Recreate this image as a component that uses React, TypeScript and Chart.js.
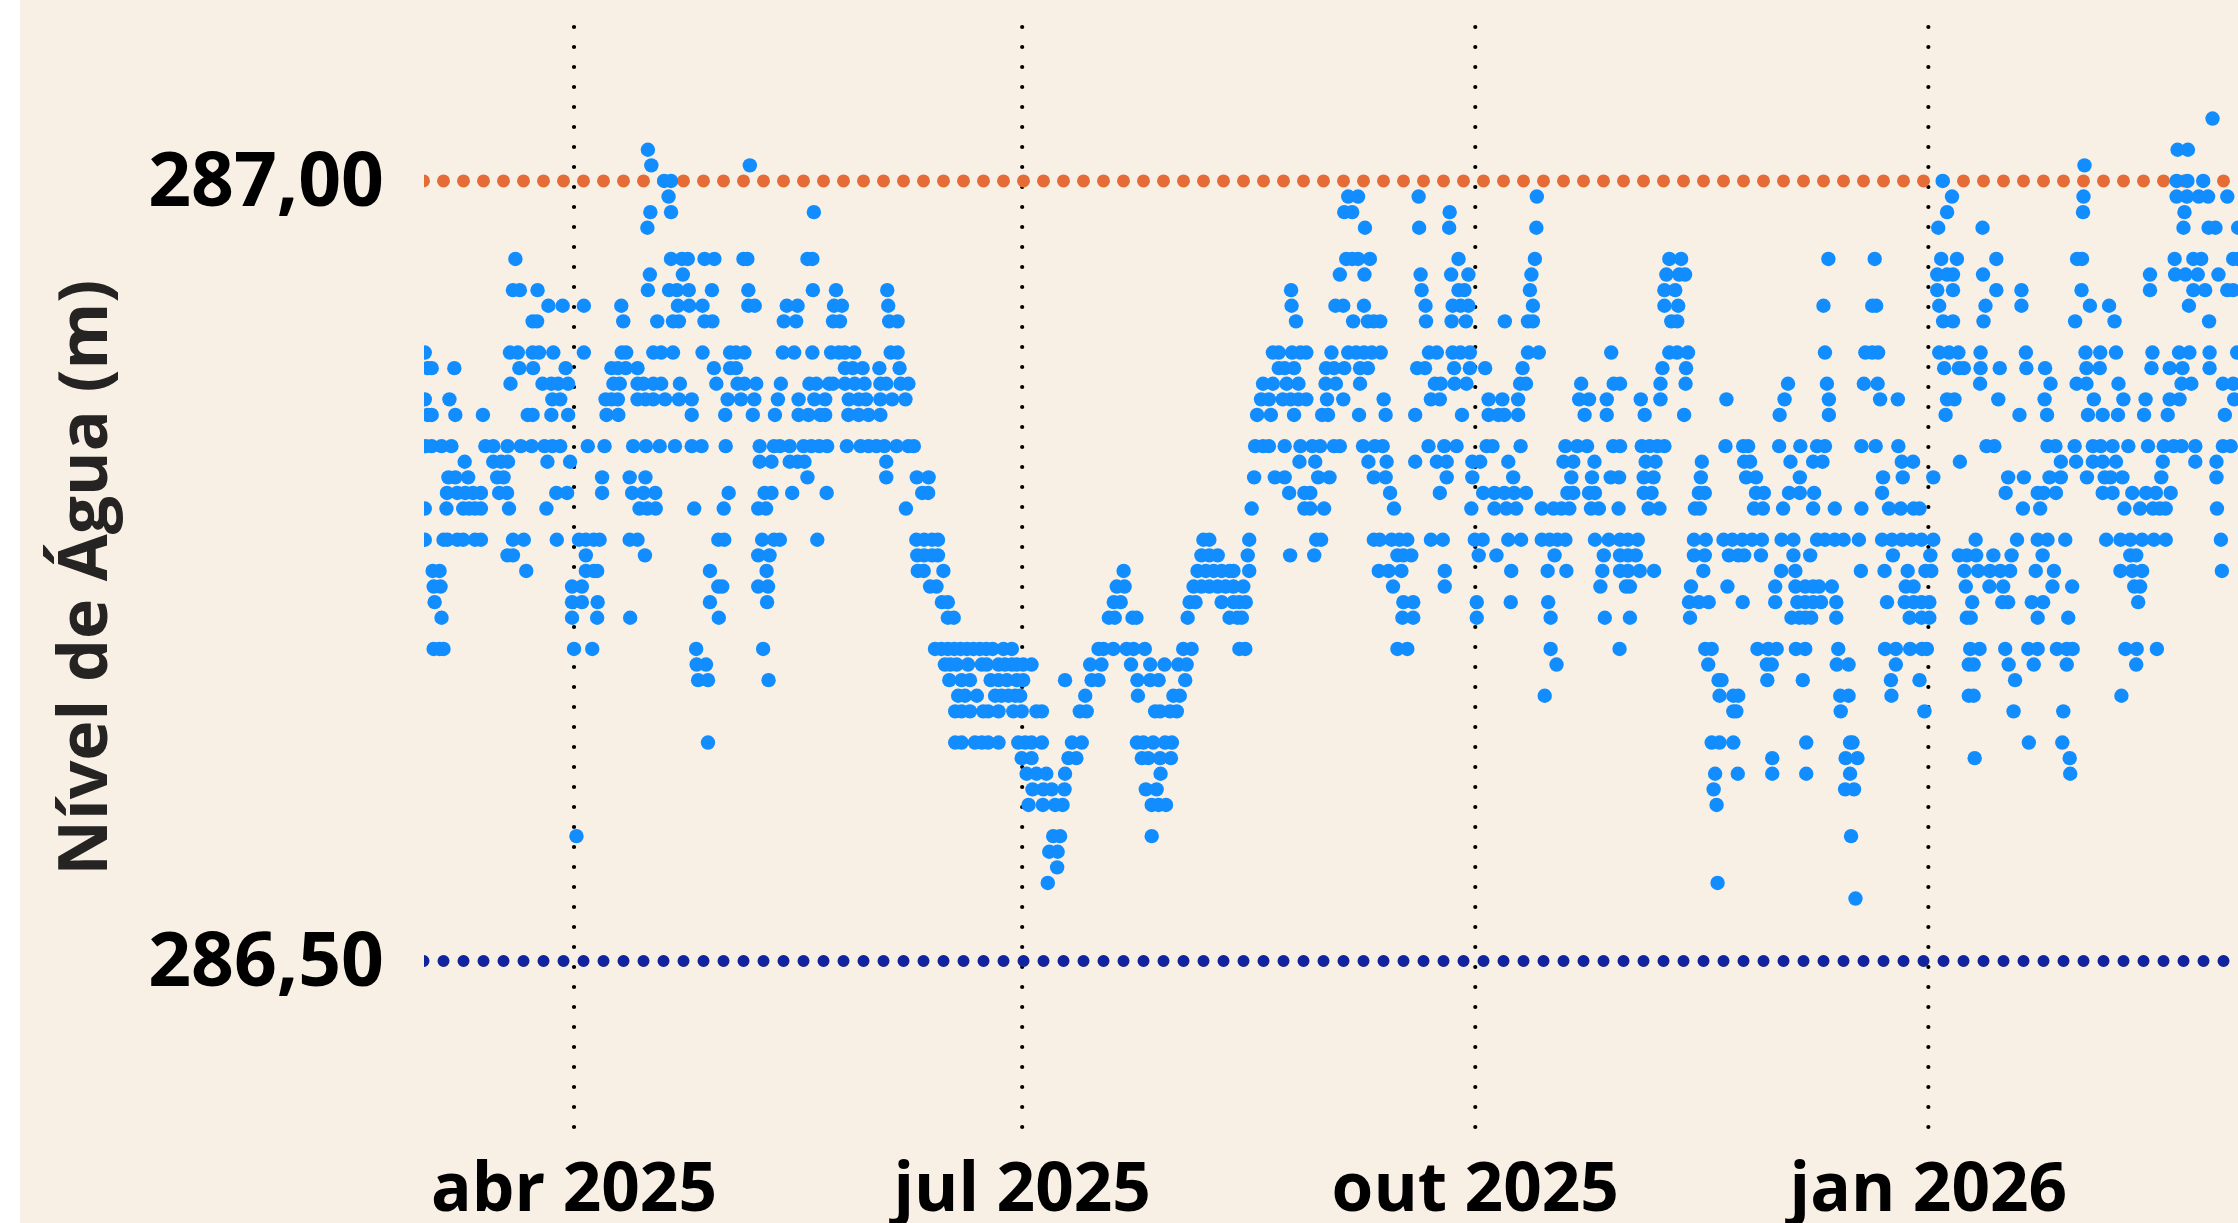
import { useEffect, useRef } from "react";
import { Chart, registerables } from "chart.js";

Chart.register(...registerables);

// Days counted from 1 April 2025, one list per recorded water level (m)
const d28704 = [332.7];
const d28702 = [15.0, 325.6, 327.7];
const d28701 = [15.7, 35.7, 306.7];
const d28700 = [18.3, 19.7, 277.9, 325.4, 327.6, 330.8];
const d28699 = [19.2, 157.2, 159.2, 171.5, 195.5, 279.8, 306.5, 325.4, 327.5, 329.9, 331.8, 335.7];
const d28698 = [15.5, 19.7, 48.7, 156.4, 158, 177.8, 278.8, 306.4, 327];
const d28697 = [14.9, 160.6, 171.6, 177.7, 195.4, 277, 286, 326.8, 331.9, 333.3, 337.9];
const d28695 = [-11.9, 19.7, 21.9, 23.1, 26.5, 28.5, 34.4, 35.2, 47.4, 48.4, 156.8, 158, 159.2, 161.6, 179.6, 195.1, 222.4, 224.8, 254.7, 264.1, 277.6, 280.8, 288.8, 305.2, 306.2, 325, 328.8, 330.4, 336.9, 337.9];
const d28694 = [15.4, 22.1, 155.5, 160.5, 171.9, 178.1, 181.6, 194.4, 221.8, 224.4, 225.6, 276.8, 278.8, 280, 286.1, 320, 325.1, 327.2, 329.7, 333.9];
const d28693 = [-12.4, -11, -7.4, 15, 19.3, 20.9, 23.3, 28, 35.4, 48.5, 53.2, 63.6, 145.6, 172.1, 179.6, 180.8, 194.1, 221.4, 223.6, 276.8, 280, 288.8, 293.9, 306.1, 320, 328.8, 331.2, 335.7, 336.9];
const d28692 = [-5.2, -2.3, 2, 9.6, 21.1, 23.4, 26.1, 35.4, 36.7, 43.2, 45.4, 52.8, 54.4, 63.8, 145.7, 154.6, 156.2, 160.4, 172.9, 178.4, 180, 181.6, 194.7, 221.4, 224.2, 253.7, 263.6, 264.4, 277.2, 286.6, 293.9, 307.8, 311.7, 327.9];
const d28691 = [-8.4, -7.5, 10, 16.9, 20.1, 21.3, 26.5, 28.1, 42.6, 45.1, 52.6, 54, 64, 65.7, 146.6, 158.2, 161.2, 162.4, 163.7, 173, 178.2, 181.1, 189, 193.7, 194.7, 222.8, 224, 278, 280, 286.2, 304.8, 312.8, 332];
const d28689 = [-30.3, -13, -11.4, -8.4, -7.1, -4.2, 2, 9.7, 10.6, 16.1, 17.7, 20.1, 26.1, 31.7, 32.9, 34.6, 42.4, 44.7, 48.4, 52.2, 53.8, 55, 56.9, 64.3, 65.7, 141.9, 143.1, 145.8, 147.5, 148.7, 153.8, 157.2, 158.8, 160.4, 162, 163.8, 173.6, 175.2, 178.4, 180, 181.9, 193.7, 195.9, 210.6, 222.4, 224, 226.2, 254, 262.2, 263.6, 264.8, 277.2, 279.2, 281.1, 285.6, 294.8, 306.9, 309.9, 313.1, 320.5, 325.9, 328, 332.1, 337.7];
const d28688 = [-29.7, -28.9, -24.3, -11.1, -8.3, -1.7, 7.6, 8.9, 10.5, 12.9, 28.4, 31.7, 32.9, 55, 56.6, 58.6, 62, 66.1, 143.1, 144.3, 146.2, 152.7, 154.3, 156.4, 159.6, 161.2, 171.2, 172.8, 178.7, 181.9, 185, 192.6, 221, 225.8, 278.2, 281.2, 282.2, 285.6, 289.5, 294.9, 298.7, 307.1, 309.8, 320.3, 324, 326.6, 332.1];
const d28687 = [-12.9, -6.4, -4.6, -3.2, -1.2, 8, 9.3, 12.9, 14.1, 16.1, 17.7, 21.5, 28.9, 33.2, 34.6, 37, 42, 47.8, 49.2, 51.8, 52.6, 55, 57, 59, 62.2, 63.4, 66.3, 67.9, 139.9, 141.9, 144.7, 147.1, 152.6, 154.7, 159.6, 174.8, 176, 178.8, 181.2, 192.1, 193.3, 204.5, 211.1, 212.4, 220.6, 225.7, 246.5, 254.4, 261.9, 264.7, 285.5, 299.8, 305.1, 307.1, 313.6, 326.4, 328.4, 334.8, 336.9];
const d28686 = [-30.3, -25.3, -4.4, -2.8, 6.4, 7.6, 8.9, 12.9, 14.5, 16.1, 18.5, 21.3, 23.9, 31.2, 33.9, 36.6, 41.4, 45.6, 48.8, 51, 55.8, 57.8, 59.3, 62.2, 64.6, 67.3, 139.5, 141.1, 143.9, 145.5, 147.1, 148.7, 152.9, 156.2, 164.4, 174, 175.8, 185.7, 188.5, 191.7, 204.1, 206.1, 209.7, 216.6, 220.6, 234, 245.8, 254.8, 265.2, 268.8, 278.8, 280.3, 289.2, 298.6, 308.6, 314.6, 319.1, 324, 326, 337.1];
const d28685 = [-29.7, -28.9, -24.1, -18.5, -9.4, -8.4, -4.6, -1.2, 6.6, 9, 23.9, 30.7, 36.3, 40.8, 45.6, 47.6, 50, 51, 55.7, 57.8, 59.8, 62.2, 138.7, 141.5, 146.2, 151.9, 153.1, 159.4, 164.8, 170.8, 180.3, 185.7, 187.7, 188.9, 191.7, 205.2, 209.7, 217.4, 225.4, 244.8, 254.8, 278.5, 293.5, 299.1, 307.4, 310.4, 313.5, 318.8, 323.6, 335.2];
const d28683 = [-30.1, -28.9, -26.9, -24.9, -18, -16.4, -13.5, -10.8, -8.6, -6, -4.4, -2.8, 2.8, 6.2, 12, 14.6, 17.4, 20.5, 23.9, 25.9, 30.8, 37.7, 40.6, 41.8, 43.8, 46.6, 48.2, 49.8, 51.4, 55.4, 58.2, 59.8, 61.4, 63, 65.5, 67.9, 69, 138.3, 139.9, 141.1, 144.3, 147.5, 149.9, 151.5, 154.3, 155.5, 160.2, 162.6, 164.2, 173.5, 176.7, 179.2, 185.3, 186.5, 192.2, 201.3, 203.7, 205.7, 211, 212.4, 216.8, 218.4, 220, 221.4, 233.8, 237.4, 238.4, 244.7, 249, 252.4, 254, 261.4, 264.3, 268.9, 286.8, 288.4, 299.2, 300.8, 304.7, 308.4, 310, 312.4, 315.6, 319.6, 322.8, 324.8, 326.4, 329.2, 334.8, 336.4];
const d28682 = [-22.2, -16.4, -14.8, -13.4, -5.4, -0.8, 37.7, 40.1, 43.8, 45.4, 46.8, 63.4, 147.3, 150.5, 161.3, 165, 170.8, 175.2, 177.2, 182.4, 184, 189.7, 200.9, 202.9, 207.2, 217.6, 219.6, 229, 237.6, 238.8, 247, 251.6, 253.5, 269.6, 271.9, 281.4, 301.9, 305, 308.4, 310.4, 313.1, 322.6, 329.2, 333.5];
const d28681 = [-25.5, -24.1, -21.5, -15.6, -14.3, 5.7, 11.3, 14.5, 47.4, 63.4, 69.6, 72, 138.1, 142.3, 144.3, 151.1, 153.4, 162.4, 164.8, 177.2, 182.4, 190.7, 202.5, 206.7, 210.5, 212.2, 217.2, 219.2, 228.8, 238, 240, 248.9, 265.8, 269.8, 276, 291.2, 294.4, 299.6, 301.9, 307.2, 310.8, 312, 314.4, 322.3, 333.5];
const d28680 = [-25.8, -23.7, -22.1, -20.5, -18.9, -15.2, -13.6, -3.6, -1.4, 5.7, 11.8, 14.1, 16.5, 31.4, 38.7, 40.1, 44.3, 51.3, 70.7, 71.9, 145.2, 148.3, 149.5, 165.7, 175.8, 184.6, 186.9, 188.9, 190.9, 193.3, 201.7, 202.9, 206.1, 207.3, 217.2, 218.8, 228.4, 229.6, 240, 241.6, 246.7, 248.9, 251.8, 265.6, 290.7, 297.2, 298.4, 300.9, 310.4, 312.4, 316.4, 319.2, 321.2, 324.2];
const d28679 = [-30.3, -25.9, -22.5, -21.3, -20.1, -18.9, -13.2, -5.6, 13.3, 14.9, 16.6, 24.4, 30.4, 37.4, 39, 67.4, 137.6, 148.3, 149.5, 152.3, 166.5, 182.2, 186.9, 189.3, 191.3, 196.5, 198.9, 200.5, 202.1, 206.5, 208.1, 212.1, 218.2, 220.4, 227.6, 228.6, 239.6, 241.4, 245.5, 251.6, 256, 261.4, 267, 269.4, 272, 273.2, 294.2, 297.7, 314.8, 318, 320.6, 322, 323.2, 333.6];
const d28677 = [-30.3, -26.5, -25.7, -23.7, -22.5, -20.1, -18.9, -12.4, -10.2, -3.5, 1, 2.4, 4, 5.2, 11.3, 12.9, 29.3, 30.5, 38.2, 40.6, 41.8, 49.4, 69.5, 71.1, 72.7, 73.9, 127.8, 129, 137.1, 150.7, 151.7, 162.4, 163.6, 166, 167.6, 169.2, 174, 176.4, 182.9, 184.5, 189.7, 192.3, 196.5, 198.1, 199.7, 201.3, 207.3, 210.1, 212.4, 214, 216, 227.4, 229.8, 233.4, 235.2, 237.2, 239.2, 241.2, 245.2, 247.6, 252.4, 254, 256, 257.8, 260.9, 265.6, 267.6, 269.6, 271.6, 273.6, 276, 284.6, 293, 297.2, 299.2, 302.8, 311.1, 314, 316, 318.4, 320.8, 323.2, 334.4];
const d28676 = [-13.5, -12.4, 2.4, 14.4, 37.4, 39.7, 69.7, 71.1, 72.7, 73.9, 127.4, 129, 130.7, 136.8, 145.4, 150.3, 167.2, 168.4, 170, 183.7, 187.3, 199.1, 209.1, 212.4, 214, 215.6, 227.4, 229.6, 234.5, 236.4, 237.6, 241, 247.6, 251, 267.8, 275.4, 281.2, 282.8, 284.7, 288.2, 291.9, 298.2, 316, 317.2];
const d28675 = [-28.7, -27.3, -9.7, 2.4, 4, 4.7, 27.6, 39.1, 69.8, 71, 75, 111.6, 126.6, 128.3, 129.9, 131.5, 133.1, 133.9, 137.1, 163.4, 165.4, 168, 176.8, 190.3, 197.7, 201.5, 208.8, 212.4, 214, 216.4, 219.3, 229.3, 245.1, 248, 261.3, 266.1, 270.8, 274.4, 275.6, 282.3, 285.1, 287.5, 289.6, 291.6, 296.8, 300.5, 314, 316.4, 318.4, 334.6];
const d28674 = [-28.5, -27.1, -0.4, 1.6, 29.3, 30.1, 37.4, 39.4, 72.3, 73.6, 110.2, 111.8, 125.8, 127.4, 129, 130.7, 132.3, 133.9, 135.9, 166.3, 176.8, 208.4, 213.6, 214.4, 226.8, 234.2, 243.9, 248, 250, 251.6, 252.8, 255.4, 270.4, 272, 282.6, 287.4, 290.2, 300.2, 304.2, 316.8, 318];
const d28673 = [-28.3, -0.4, 1.6, 4.8, 27.6, 39.2, 74.7, 75.9, 109.6, 111, 125, 126.2, 131.5, 133.9, 135.1, 136.4, 168.4, 170.4, 183.3, 190.2, 197.8, 226.4, 228.4, 230.4, 237.3, 243.9, 248.4, 250, 251.6, 253.2, 256.3, 266.6, 270.2, 272, 273.6, 275.2, 283.9, 290, 291.2, 296, 298.3, 317.6];
const d28672 = [-26.9, -0.4, 4.7, 11.4, 29.4, 75.9, 77.1, 108.6, 109.8, 113.4, 114.2, 124.6, 133.1, 134.7, 135.6, 168.2, 170.4, 183.3, 198.3, 209.3, 214.4, 226.6, 247.2, 248.8, 250, 251.2, 256.3, 271.2, 273.6, 275.2, 282.8, 283.6, 297.2, 303.4];
const d28670 = [-28.5, -27.3, -26.5, 0, 3.7, 24.8, 38.4, 73.3, 74.6, 75.9, 77.2, 78.5, 79.8, 81.1, 82.4, 83.7, 85, 87.2, 88.9, 106.5, 107.5, 109.5, 112.2, 113.6, 115.9, 123.7, 125.4, 135.1, 136.3, 167.2, 169.2, 198.3, 212.3, 229.7, 231, 240.3, 242.5, 244.2, 248.1, 250, 256.7, 266.2, 268.4, 271.3, 273.7, 274.7, 283.5, 285.4, 290.6, 295.3, 297.2, 301.1, 303.1, 304.3, 315, 317.3, 321.4];
const d28669 = [24.9, 26.8, 75.3, 76.4, 77.7, 80, 82.8, 83.8, 86.2, 87.5, 88.9, 89.9, 91.2, 92.9, 104.8, 107.1, 113.1, 117, 119.9, 122.7, 124.4, 199.5, 230.3, 242.2, 243.2, 256.4, 258.8, 268.4, 283.2, 284.2, 291.3, 296.4, 303.1, 317.2];
const d28668 = [25.2, 27.2, 39.5, 76.2, 78.7, 80.4, 84.6, 86.2, 87.9, 89.9, 91.2, 99.7, 105.1, 106.5, 114.4, 117, 118.7, 124.1, 232.4, 233, 242.3, 249.5, 267.4, 273.2, 292.6];
const d28667 = [78, 79.4, 81.8, 85.5, 86.8, 88.2, 89.6, 90.6, 103.8, 114.5, 121.7, 123, 197.1, 232.6, 235.4, 236.4, 257.1, 258.8, 267.5, 283.2, 284.2, 314.2];
const d28666 = [77.4, 78.7, 80.4, 83.1, 84.1, 86.2, 89.2, 90.9, 93.9, 95, 102.7, 104.1, 118, 119, 121, 122.4, 235.4, 236, 257.2, 274.2, 292.3, 302.4];
const d28664 = [27.2, 77.4, 78.7, 81.4, 82.8, 84.1, 86.2, 90.2, 91.6, 92.9, 95, 101.1, 103.1, 114.3, 115.6, 117.6, 120, 121.4, 231, 232.6, 235.4, 250.2, 259.1, 259.6, 295.4, 302.2];
const d28663 = [90.9, 92.9, 100.4, 102, 115.3, 116.6, 119, 121.2, 243.3, 258.2, 260.6, 284.4, 303.7];
const d28662 = [91.9, 93.9, 95.9, 99.7, 119.1, 231.7, 236.3, 243.3, 250.2, 259.1, 303.8];
const d28661 = [93.1, 95.3, 97, 99.6, 116.1, 118.3, 231.4, 258.1, 259.9];
const d28660 = [92.3, 95.2, 97.7, 99.2, 117.3, 118.7, 120.2, 232];
const d28658 = [0.5, 97.3, 98.7, 117.3, 259.3];
const d28657 = [96.5, 98.2];
const d28656 = [98.1];
const d28655 = [96.2, 232.2];
const d28654 = [260.2];

const levels: [number, number[]][] = [
  [287.04, d28704], [287.02, d28702], [287.01, d28701], [287.0, d28700], [286.99, d28699], [286.98, d28698], [286.97, d28697],
  [286.95, d28695], [286.94, d28694], [286.93, d28693], [286.92, d28692], [286.91, d28691],
  [286.89, d28689], [286.88, d28688], [286.87, d28687], [286.86, d28686], [286.85, d28685],
  [286.83, d28683], [286.82, d28682], [286.81, d28681], [286.8, d28680], [286.79, d28679],
  [286.77, d28677], [286.76, d28676], [286.75, d28675], [286.74, d28674], [286.73, d28673], [286.72, d28672],
  [286.7, d28670], [286.69, d28669], [286.68, d28668], [286.67, d28667], [286.66, d28666],
  [286.64, d28664], [286.63, d28663], [286.62, d28662], [286.61, d28661], [286.6, d28660],
  [286.58, d28658], [286.57, d28657], [286.56, d28656], [286.55, d28655], [286.54, d28654],
];

const tickDays = [0, 91, 183, 275];
const tickLabels = ["abr 2025", "jul 2025", "out 2025", "jan 2026"];
const yTicks = [286.5, 287];
const upperLimit = 287;
const lowerLimit = 286.5;
const xMin = -30.46;
const xMax = 337.87;
const yMin = 286.3929;
const yMax = 287.0987;

const FONT = "'Open Sans', sans-serif";

export default function App() {
  const ref = useRef<HTMLCanvasElement | null>(null);
  useEffect(() => {
    const canvas = ref.current;
    if (!canvas) return;
    const points = levels.flatMap(([v, days]) => days.map((x) => ({ x, y: v })));
    const limit = (y: number, color: string, width: number) => ({
      type: "line" as const,
      data: [{ x: -30.56, y }, { x: xMax + 1, y }],
      borderColor: color,
      borderWidth: width,
      borderDash: [0, 20],
      borderCapStyle: "round" as const,
      pointRadius: 0,
      order: 1,
      clip: 0,
    });
    const chart = new Chart(canvas, {
      type: "scatter",
      data: {
        datasets: [
          {
            data: points,
            backgroundColor: "#118DFF",
            borderWidth: 0,
            pointRadius: 7.2,
            pointHoverRadius: 7.2,
            order: 0,
            clip: 0,
          } as any,
          limit(upperLimit, "#E66C37", 13) as any,
          limit(lowerLimit, "#12239E", 12) as any,
          ...tickDays.map(
            (x) =>
              ({
                type: "line",
                data: [{ x, y: yMax }, { x, y: yMin }],
                borderColor: "#000000",
                borderWidth: 4.2,
                borderDash: [0, 20],
                borderCapStyle: "round",
                pointRadius: 0,
                order: 2,
                clip: 4,
              }) as any,
          ),
        ],
      },
      options: {
        animation: false,
        responsive: false,
        devicePixelRatio: 1,
        layout: { autoPadding: false, padding: { top: 27, right: 0, left: 0, bottom: 0 } },
        plugins: { legend: { display: false }, tooltip: { enabled: false } },
        scales: {
          x: {
            type: "linear",
            min: xMin,
            max: xMax,
            grid: { display: false },
            border: { display: false },
            afterBuildTicks: (s: any) => {
              s.ticks = tickDays.map((value) => ({ value }));
            },
            afterFit: (s: any) => {
              s.height = 95;
              s.paddingLeft = 0;
              s.paddingRight = 0;
            },
            ticks: {
              autoSkip: false,
              maxRotation: 0,
              minRotation: 0,
              padding: 15,
              color: "#000000",
              font: { family: FONT, weight: "bold", size: 67.5 },
              callback: (v: any) => tickLabels[tickDays.indexOf(Number(v))] ?? "",
            },
          },
          y: {
            type: "linear",
            min: yMin,
            max: yMax,
            grid: { display: false },
            border: { display: false },
            afterBuildTicks: (s: any) => {
              s.ticks = yTicks.map((value) => ({ value }));
            },
            afterFit: (s: any) => {
              s.width = 424;
              s.paddingTop = 0;
              s.paddingBottom = 0;
            },
            title: {
              display: true,
              text: "Nível de Água (m)",
              color: "#252423",
              font: { family: FONT, weight: "bold", size: 68 },
              padding: { top: 47, bottom: 0 },
            },
            ticks: {
              padding: 32,
              labelOffset: 4,
              color: "#000000",
              font: { family: FONT, weight: "bold", size: 75 },
              callback: (v: any) => Number(v).toFixed(2).replace(".", ","),
            },
          },
        },
      },
    });
    return () => chart.destroy();
  }, []);
  return (
    <div style={{ position: "fixed", inset: 0, background: "#ffffff", overflow: "hidden" }}>
      <div style={{ position: "absolute", left: 20, top: 0, right: 0, bottom: 0, background: "#F8F0E4" }} />
      <canvas ref={ref} width={2238} height={1223} style={{ position: "absolute", left: 0, top: 0, width: 2238, height: 1223 }} />
    </div>
  );
}
